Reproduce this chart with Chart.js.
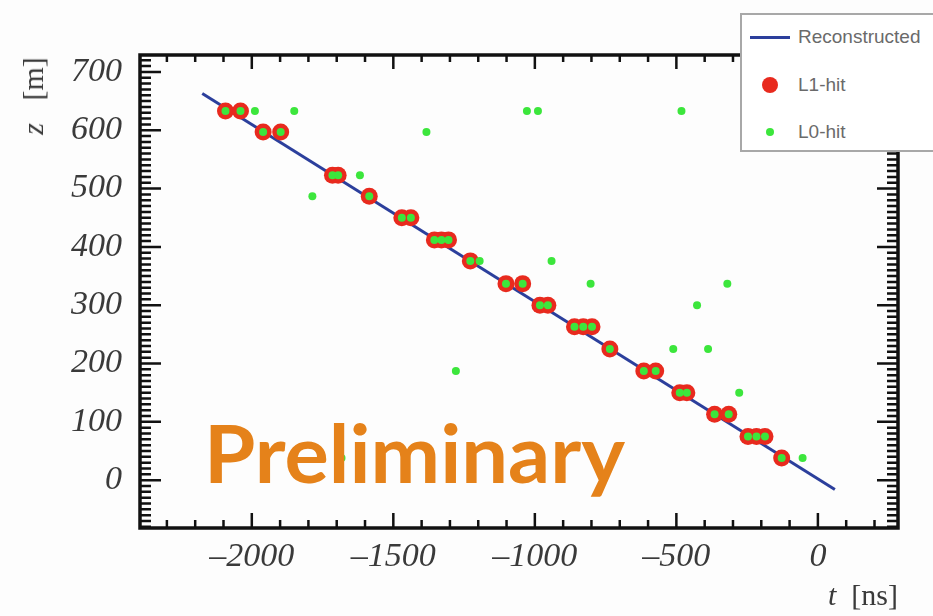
<!DOCTYPE html>
<html>
<head>
<meta charset="utf-8">
<script src="https://cdn.jsdelivr.net/npm/chart.js@4.4.0/dist/chart.umd.min.js"></script>
<style>
html, body { margin:0; padding:0; background:#fdfdfd; }
#wrap { position:relative; width:933px; height:616px; overflow:hidden; }
#chart { position:absolute; left:0; top:0; }
.ttl { position:absolute; font-family:'Liberation Serif', serif; font-size:30px; color:#3a3a3a; white-space:nowrap; }
#ytitle { left:33px; top:96px; transform:translate(-50%,-50%) rotate(-90deg); }
#xtitle { right:35px; top:578px; }
#prelim { position:absolute; left:204px; top:412px; font-family:Lato, sans-serif; font-weight:700; font-size:80px; line-height:1;
  color:#e5821a; transform-origin:0 0; white-space:nowrap; }
#legend { position:absolute; left:740px; top:13px; width:230px; height:135px; background:#fff; border:2px solid #a8a8a8;
  font-family:'Liberation Sans', Arial, sans-serif; font-size:19px; color:#6a6a6a; }
.row { position:absolute; left:0; height:30px; line-height:30px; }
.row span.t { position:absolute; left:56px; }
.mk { position:absolute; }
</style>
</head>
<body>
<div id="wrap">
  <canvas id="chart" width="933" height="616"></canvas>
  <div id="prelim">Preliminary</div>
  <div id="ytitle" class="ttl"><i>z</i>&nbsp;&nbsp;&nbsp;[m]</div>
  <div id="xtitle" class="ttl"><i>t</i>&nbsp;&nbsp;[ns]</div>
  <div id="legend">
    <div class="row" style="top:7px;width:230px"><div class="mk" style="left:8px;top:14px;width:40px;height:3px;background:#2c3f9c"></div><span class="t">Reconstructed</span></div>
    <div class="row" style="top:55px;width:230px"><div class="mk" style="left:20px;top:7px;width:16px;height:16px;border-radius:50%;background:#e82a1e"></div><span class="t">L1-hit</span></div>
    <div class="row" style="top:102px;width:230px"><div class="mk" style="left:24px;top:11px;width:8px;height:8px;border-radius:50%;background:#3ce63c"></div><span class="t">L0-hit</span></div>
  </div>
</div>
<script>
// reconstructed track (end points)
var lineT = [-2175, 60];
var lineZ = [663, -16];

// L1 hits
var l1T = [-2093,-2040,-1960,-1898,-1715,-1695,-1585,-1470,-1438,-1355,-1330,-1305,-1228,-1102,-1043,
           -982,-954,-860,-829,-798,-735,-615,-573,-488,-463,-365,-315,-247,-217,-187,-128];
var l1Z = [633,633,597,597,523,523,487,450,450,412,412,412,376,337,337,
           300,300,263,263,263,225,187,187,150,150,113,113,75,75,75,38];

// L0 hits (on track + off track)
var l0T = [-2093,-2040,-1960,-1898,-1715,-1695,-1585,-1470,-1438,-1355,-1330,-1305,-1228,-1102,-1043,
           -982,-954,-860,-829,-798,-735,-615,-573,-488,-463,-365,-315,-247,-217,-187,-128,
           -1989,-1850,-1028,-989,-482,-1383,-1618,-1786,-1195,-941,-803,-320,-427,-511,-388,-1279,-278,-54,-1683];
var l0Z = [633,633,597,597,523,523,487,450,450,412,412,412,376,337,337,
           300,300,263,263,263,225,187,187,150,150,113,113,75,75,75,38,
           633,633,633,633,633,597,523,487,376,376,337,337,300,225,225,187,150,38,38];

var xTicks = [-2000, -1500, -1000, -500, 0];
var yTicks = [0, 100, 200, 300, 400, 500, 600, 700];

function pts(a, b) {
  var out = [];
  for (var i = 0; i < a.length; i++) out.push({x: a[i], y: b[i]});
  return out;
}

var frameTicks = {
  id: 'frameTicks',
  afterDatasetsDraw: function(chart) {
    var ctx = chart.ctx, a = chart.chartArea;
    var xs = chart.scales.x, ys = chart.scales.y;
    ctx.save();
    ctx.strokeStyle = '#111';
    ctx.lineWidth = 2.5;
    ctx.beginPath();
    for (var v = -2300; v <= 200; v += 100) {
      var px = xs.getPixelForValue(v);
      var major = v % 500 === 0;
      ctx.moveTo(px, a.bottom); ctx.lineTo(px, a.bottom - (major ? 15 : 8));
      ctx.moveTo(px, a.top); ctx.lineTo(px, a.top + (major ? 14 : 7));
    }
    for (var w = -80; w <= 720; w += 10) {
      var py = ys.getPixelForValue(w);
      var maj = w % 100 === 0;
      ctx.moveTo(a.left, py); ctx.lineTo(a.left + (maj ? 21 : 11), py);
      ctx.moveTo(a.right, py); ctx.lineTo(a.right - (maj ? 21 : 11), py);
    }
    ctx.stroke();
    ctx.lineWidth = 3.5;
    ctx.strokeRect(a.left, a.top, a.right - a.left, a.bottom - a.top);
    ctx.restore();
  }
};

var tickFont = {family: "'Liberation Serif', serif", style: 'italic', size: 34};
function dash(v) { return String(v).replace('-', '\u2013'); }

var ctx = document.getElementById('chart').getContext('2d');
var chart = new Chart(ctx, {
  type: 'scatter',
  data: {
    datasets: [{
      label: 'L0-hit',
      data: pts(l0T, l0Z),
      backgroundColor: '#3ce63c',
      borderWidth: 0,
      pointRadius: 4,
      order: 0
    }, {
      label: 'L1-hit',
      data: pts(l1T, l1Z),
      backgroundColor: '#e82a1e',
      borderWidth: 0,
      pointRadius: 8.5,
      order: 1
    }, {
      label: 'Reconstructed',
      data: pts(lineT, lineZ),
      showLine: true,
      borderColor: '#2c3f9c',
      borderWidth: 3,
      pointRadius: 0,
      order: 2
    }]
  },
  options: {
    responsive: false,
    animation: false,
    layout: {padding: {top: 55, right: 35, left: 0, bottom: 0}},
    plugins: {legend: {display: false}, tooltip: {enabled: false}},
    scales: {
      x: {
        type: 'linear', min: -2395, max: 283,
        grid: {display: false}, border: {display: false},
        afterBuildTicks: function(s) { s.ticks = xTicks.map(function(v) { return {value: v}; }); },
        afterFit: function(s) { s.height = 88; },
        ticks: {font: tickFont, color: '#3a3a3a', padding: 1, autoSkip: false, maxRotation: 0,
                callback: function(v) { return dash(v); }}
      },
      y: {
        type: 'linear', min: -82, max: 729,
        grid: {display: false}, border: {display: false},
        afterBuildTicks: function(s) { s.ticks = yTicks.map(function(v) { return {value: v}; }); },
        afterFit: function(s) { s.width = 140; },
        ticks: {font: tickFont, color: '#3a3a3a', padding: 10, autoSkip: false,
                callback: function(v) { return dash(v); }}
      }
    }
  },
  plugins: [frameTicks]
});

// squeeze the watermark to the reference width
var pr = document.getElementById('prelim');
var w = pr.getBoundingClientRect().width;
pr.style.transform = 'scaleX(' + (421 / w) + ')';
</script>
</body>
</html>
